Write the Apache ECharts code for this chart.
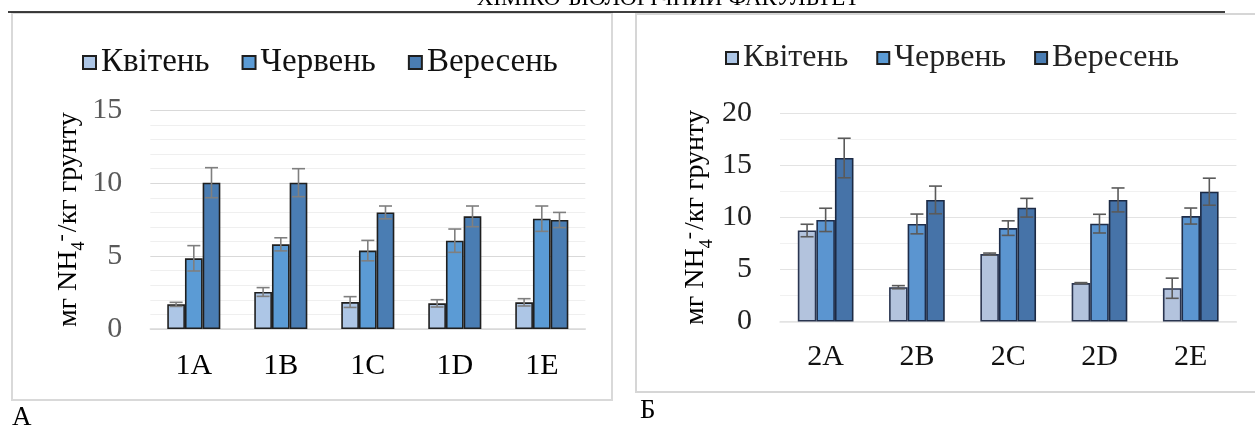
<!DOCTYPE html>
<html>
<head>
<meta charset="utf-8">
<script src="https://cdn.jsdelivr.net/npm/echarts@6/dist/echarts.min.js"></script>
<style>
html,body{margin:0;padding:0;background:#fff;}
#c{width:1255px;height:426px;}
</style>
</head>
<body>
<div id="c"></div>
<script>
// ---- data ----
const seriesNames = ['Квітень', 'Червень', 'Вересень'];
const categoriesA = ['1A', '1B', '1C', '1D', '1E'];
const categoriesB = ['2A', '2B', '2C', '2D', '2E'];
const ticksA = [0, 5, 10, 15];
const ticksB = [0, 5, 10, 15, 20];

const aprA = [1.69, 2.54, 1.85, 1.76, 1.83];
const aprAErr = [0.14, 0.30, 0.37, 0.25, 0.25];
const junA = [4.85, 5.81, 5.38, 6.06, 7.57];
const junAErr = [0.87, 0.45, 0.70, 0.80, 0.87];
const sepA = [10.04, 10.04, 8.00, 7.73, 7.48];
const sepAErr = [1.03, 0.96, 0.44, 0.71, 0.52];

const aprB = [8.75, 3.30, 6.48, 3.69, 3.20];
const aprBErr = [0.60, 0.15, 0.10, 0.05, 0.97];
const junB = [9.77, 9.38, 8.98, 9.41, 10.14];
const junBErr = [1.12, 0.95, 0.70, 0.90, 0.77];
const sepB = [15.72, 11.69, 10.94, 11.69, 12.48];
const sepBErr = [1.90, 1.33, 0.90, 1.15, 1.30];

// ---- styles ----
const FONT = 'Liberation Serif';
const colorsA = ['#adc6e6', '#5b9bd5', '#4a7db3'];
const colorsB = ['#b3c3dd', '#5b95d0', '#4673a8'];
const CAT_GAP = 0.39;

const chart = echarts.init(document.getElementById('c'), null, {renderer: 'canvas'});

function errSeries(name, grid, values, errs, k, color) {
  return {
    type: 'custom',
    name: name,
    xAxisIndex: grid, yAxisIndex: grid,
    z: 5,
    silent: true,
    data: values.map((v, i) => [i, v, errs[i]]),
    renderItem: function (params, api) {
      const x = api.value(0), v = api.value(1), e = api.value(2);
      const band = api.size([1, 0])[0];
      const bw = band * (1 - CAT_GAP) / 3;
      const off = (k - 1) * bw;
      const t = api.coord([x, v + e]);
      const b = api.coord([x, v - e]);
      const cx = t[0] + off;
      const cap = 6.5;
      const st = {stroke: color, lineWidth: 1.6};
      return {
        type: 'group',
        children: [
          {type: 'line', shape: {x1: cx, y1: t[1], x2: cx, y2: b[1]}, style: st},
          {type: 'line', shape: {x1: cx - cap, y1: t[1], x2: cx + cap, y2: t[1]}, style: st},
          {type: 'line', shape: {x1: cx - cap, y1: b[1], x2: cx + cap, y2: b[1]}, style: st}
        ]
      };
    }
  };
}

function barSeries(name, grid, values, color, border) {
  return {
    type: 'bar',
    name: name,
    xAxisIndex: grid, yAxisIndex: grid,
    data: values,
    barGap: '0%',
    barCategoryGap: (CAT_GAP * 100) + '%',
    itemStyle: {color: color, borderColor: border, borderWidth: 1.6},
    emphasis: {disabled: true}
  };
}

const yName = '{a|мг NH}{s|4}{p|-}{a|/кг грунту}';
const yNameStyle = {
  fontFamily: FONT, color: '#000',
  rich: {
    a: {fontFamily: FONT, fontSize: 28, color: '#000'},
    s: {fontFamily: FONT, fontSize: 18, color: '#000', verticalAlign: 'bottom', padding: [0, 0, -6, 0]},
    p: {fontFamily: FONT, fontSize: 22, color: '#000', verticalAlign: 'top', padding: [-4, 2, 0, 0]}
  }
};

const option = {
  backgroundColor: '#fff',
  animation: false,
  textStyle: {fontFamily: FONT},
  grid: [
    {left: 150.3, right: 1255 - 585.3, top: 110.4, bottom: 97},
    {left: 780, right: 1255 - 1236.4, top: 113.5, bottom: 104.5}
  ],
  legend: [
    {
      data: seriesNames, left: 77, top: 41, itemWidth: 13, itemHeight: 13, itemGap: 32,
      icon: 'rect', textStyle: {fontFamily: FONT, fontSize: 33, color: '#111'}
    },
    {
      data: seriesNames, left: 720, top: 37, itemWidth: 12, itemHeight: 12, itemGap: 28,
      icon: 'rect', textStyle: {fontFamily: FONT, fontSize: 32, color: '#222'}
    }
  ],
  xAxis: [
    {
      type: 'category', gridIndex: 0, data: categoriesA,
      axisLine: {lineStyle: {color: '#d9d9d9', width: 1.5}},
      axisTick: {show: false},
      axisLabel: {fontFamily: FONT, fontSize: 30, color: '#000', margin: 22}
    },
    {
      type: 'category', gridIndex: 1, data: categoriesB,
      axisLine: {lineStyle: {color: '#e3e3e3', width: 1.5}},
      axisTick: {show: false},
      axisLabel: {fontFamily: FONT, fontSize: 30, color: '#111', margin: 21}
    }
  ],
  yAxis: [
    {
      type: 'value', gridIndex: 0, min: ticksA[0], max: ticksA[ticksA.length - 1], interval: 5,
      axisLine: {show: false}, axisTick: {show: false},
      axisLabel: {fontFamily: FONT, fontSize: 30, color: '#595959', margin: 28},
      splitLine: {lineStyle: {color: '#d9d9d9', width: 1.2}},
      minorTick: {show: false, splitNumber: 5},
      minorSplitLine: {show: true, lineStyle: {color: '#efefef', width: 1.2}},
      name: yName, nameLocation: 'middle', nameRotate: 90, nameGap: 66,
      nameTextStyle: yNameStyle
    },
    {
      type: 'value', gridIndex: 1, min: ticksB[0], max: ticksB[ticksB.length - 1], interval: 5,
      axisLine: {show: false}, axisTick: {show: false},
      axisLabel: {fontFamily: FONT, fontSize: 30, color: '#222', margin: 28},
      splitLine: {lineStyle: {color: '#e3e3e3', width: 1.2}},
      minorTick: {show: false, splitNumber: 2},
      minorSplitLine: {show: true, lineStyle: {color: '#f1f1f1', width: 1.2}},
      name: yName, nameLocation: 'middle', nameRotate: 90, nameGap: 70,
      nameTextStyle: yNameStyle
    }
  ],
  series: [
    barSeries(seriesNames[0], 0, aprA, colorsA[0], '#1f1f1f'),
    barSeries(seriesNames[1], 0, junA, colorsA[1], '#1f1f1f'),
    barSeries(seriesNames[2], 0, sepA, colorsA[2], '#1f1f1f'),
    barSeries(seriesNames[0], 1, aprB, colorsB[0], '#2a3550'),
    barSeries(seriesNames[1], 1, junB, colorsB[1], '#1e2d4a'),
    barSeries(seriesNames[2], 1, sepB, colorsB[2], '#1c2a44'),
    errSeries('errA0', 0, aprA, aprAErr, 0, '#7f7f7f'),
    errSeries('errA1', 0, junA, junAErr, 1, '#7f7f7f'),
    errSeries('errA2', 0, sepA, sepAErr, 2, '#7f7f7f'),
    errSeries('errB0', 1, aprB, aprBErr, 0, '#5a5a5a'),
    errSeries('errB1', 1, junB, junBErr, 1, '#5a5a5a'),
    errSeries('errB2', 1, sepB, sepBErr, 2, '#5a5a5a')
  ],
  graphic: [
    {type: 'rect', z: -10, shape: {x: 12, y: 13, width: 600, height: 387}, style: {fill: '#fff', stroke: '#d9d9d9', lineWidth: 2}},
    {type: 'rect', z: -10, shape: {x: 636, y: 14, width: 640, height: 378}, style: {fill: '#fff', stroke: '#d6d6d6', lineWidth: 2}},
    {type: 'line', z: 10, shape: {x1: 8, y1: 12, x2: 1225, y2: 12}, style: {stroke: '#000', lineWidth: 1.5}},
    {type: 'text', z: 10, x: 668, y: 10, style: {text: 'ХІМІКО-БІОЛОГІЧНИЙ ФАКУЛЬТЕТ', fontFamily: FONT, fontSize: 23, fill: '#000', align: 'center', verticalAlign: 'bottom'}},
    {type: 'text', z: 10, x: 12, y: 418, style: {text: 'А', fontFamily: FONT, fontSize: 27, fill: '#000', align: 'left', verticalAlign: 'middle'}},
    {type: 'text', z: 10, x: 640, y: 411, style: {text: 'Б', fontFamily: FONT, fontSize: 27, fill: '#000', align: 'left', verticalAlign: 'middle'}}
  ]
};

chart.setOption(option);
</script>
</body>
</html>
